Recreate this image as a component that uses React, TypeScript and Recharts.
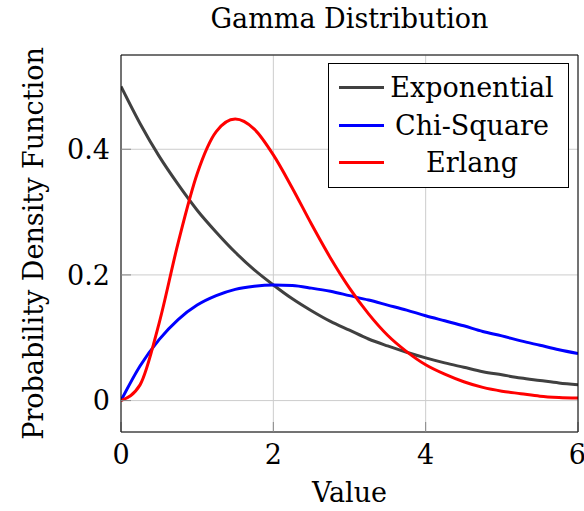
import React from "react";
import {
  LineChart,
  Line,
  XAxis,
  YAxis,
  CartesianGrid,
  Legend,
} from "recharts";

const FONT = "'DejaVu Serif', serif";

// x positions (step 0.25 over 0..6)
const xValues = [
  0, 0.25, 0.5, 0.75, 1, 1.25, 1.5, 1.75, 2, 2.25, 2.5, 2.75, 3, 3.25, 3.5,
  3.75, 4, 4.25, 4.5, 4.75, 5, 5.25, 5.5, 5.75, 6,
];

const exponential = [
  0.5, 0.441, 0.389, 0.344, 0.303, 0.268, 0.236, 0.208, 0.184, 0.162, 0.143,
  0.126, 0.112, 0.098, 0.087, 0.077, 0.068, 0.06, 0.053, 0.046, 0.041, 0.036,
  0.032, 0.028, 0.025,
];

const chiSquare = [
  0, 0.055, 0.097, 0.129, 0.152, 0.167, 0.177, 0.182, 0.184, 0.183, 0.179,
  0.174, 0.167, 0.16, 0.152, 0.144, 0.135, 0.127, 0.119, 0.11, 0.103, 0.095,
  0.088, 0.081, 0.075,
];

const erlang = [
  0, 0.025, 0.123, 0.251, 0.361, 0.428, 0.448, 0.432, 0.391, 0.338, 0.281,
  0.227, 0.179, 0.138, 0.104, 0.078, 0.057, 0.042, 0.03, 0.021, 0.015, 0.011,
  0.007, 0.005, 0.004,
];

const xTicks = [0, 2, 4, 6];
const yTicks = [0, 0.2, 0.4];

const series = [
  { key: "exponential", name: "Exponential", color: "#404040" },
  { key: "chiSquare", name: "Chi-Square", color: "#0000ff" },
  { key: "erlang", name: "Erlang", color: "#ff0000" },
];

const data = xValues.map((x, i) => ({
  x,
  exponential: exponential[i],
  chiSquare: chiSquare[i],
  erlang: erlang[i],
}));

const tickStyle = { fill: "#000", fontSize: 27, fontFamily: FONT };

const LegendBox = () => (
  <div
    style={{
      border: "1px solid #000",
      background: "#fff",
      padding: "5px 0",
      width: 239,
      fontFamily: FONT,
      fontSize: 27,
      color: "#000",
    }}
  >
    {series.map((s) => (
      <div
        key={s.key}
        style={{ display: "flex", alignItems: "center", height: 37.5 }}
      >
        <span
          style={{
            display: "inline-block",
            marginLeft: 10,
            width: 45,
            height: 3,
            background: s.color,
          }}
        ></span>
        <span style={{ width: 176, textAlign: "center", lineHeight: "37px" }}>
          {s.name}
        </span>
      </div>
    ))}
  </div>
);

export default function App() {
  return (
    <div style={{ position: "absolute", left: 0, top: 0, background: "#fff" }}>
      <LineChart
        width={584}
        height={511}
        data={data}
        margin={{ top: 54, right: 5, bottom: 0, left: 0 }}
      >
        <CartesianGrid stroke="#cccccc" strokeWidth={1} />
        <XAxis
          dataKey="x"
          type="number"
          domain={[0, 6]}
          ticks={xTicks}
          height={79}
          axisLine={{ stroke: "#000" }}
          tickLine={{ stroke: "#888" }}
          tickSize={-10}
          tickMargin={23}
          tick={tickStyle}
          allowDataOverflow
          label={{
            value: "Value",
            position: "insideBottom",
            offset: 9,
            style: { fill: "#000", fontSize: 27, fontFamily: FONT },
          }}
        />
        {/* axes need a size of at least 1px or recharts skips them */}
        <XAxis
          xAxisId="top"
          dataKey="x"
          type="number"
          orientation="top"
          domain={[0, 6]}
          ticks={xTicks}
          height={1}
          axisLine={{ stroke: "#000" }}
          tickLine={{ stroke: "#888" }}
          tickSize={-10}
          tick={false}
          allowDataOverflow
          label={{
            value: "Gamma Distribution",
            position: "top",
            offset: 26,
            style: { fill: "#000", fontSize: 27, fontFamily: FONT },
          }}
        />
        <YAxis
          type="number"
          domain={[-0.05, 0.55]}
          ticks={yTicks}
          width={121}
          axisLine={{ stroke: "#000" }}
          tickLine={{ stroke: "#888" }}
          tickSize={-10}
          tickMargin={21}
          tick={tickStyle}
          allowDataOverflow
          label={{
            value: "Probability Density Function",
            angle: -90,
            position: "insideLeft",
            offset: 33,
            style: {
              fill: "#000",
              fontSize: 27,
              fontFamily: FONT,
              textAnchor: "middle",
            },
          }}
        />
        <YAxis
          yAxisId="right"
          type="number"
          orientation="right"
          domain={[-0.05, 0.55]}
          ticks={yTicks}
          width={1}
          axisLine={{ stroke: "#000" }}
          tickLine={{ stroke: "#888" }}
          tickSize={-10}
          tick={false}
          allowDataOverflow
        />
        {/* vertical + center + middle keeps the legend out of the plot offset */}
        <Legend
          layout="vertical"
          verticalAlign="middle"
          align="center"
          content={<LegendBox />}
          wrapperStyle={{ left: 328, top: 63, width: 241 }}
        />
        {series.map((s) => (
          <Line
            key={s.key}
            type="monotone"
            dataKey={s.key}
            name={s.name}
            stroke={s.color}
            strokeWidth={3}
            dot={false}
            isAnimationActive={false}
          />
        ))}
      </LineChart>
    </div>
  );
}
